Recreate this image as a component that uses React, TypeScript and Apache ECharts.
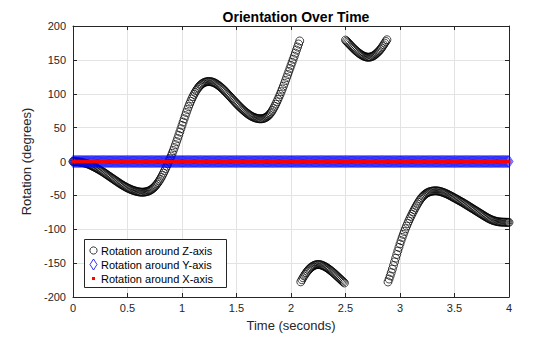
import React, { useEffect, useRef } from "react";
import * as echarts from "echarts";

// Sample interval of the recording (seconds)
const TIME_STEP = 0.01;

// Rotation around Z-axis (degrees), one value per 0.01 s sample from 0 to 4 s
const zRotation: number[] = [
  // 0.00 - 0.99
  0, -0.1, -0.2, -0.3, -0.5, -0.6, -0.8, -1.0, -1.3, -1.6,
  -2, -2.4, -2.8, -3.3, -3.9, -4.6, -5.3, -6.1, -6.9, -7.7,
  -8.5, -9.4, -10.3, -11.2, -12.1, -13, -14, -15, -16, -17.1,
  -18.2, -19.3, -20.4, -21.5, -22.6, -23.7, -24.8, -25.9, -27, -28.1,
  -29.2, -30.3, -31.4, -32.5, -33.5, -34.5, -35.5, -36.4, -37.3, -38.2,
  -39, -39.8, -40.5, -41.2, -41.9, -42.5, -43, -43.5, -44, -44.4,
  -44.7, -45, -45.2, -45.3, -45.3, -45.2, -45, -44.7, -44.3, -43.8,
  -43.1, -42.3, -41.3, -40.1, -38.7, -37.1, -35.3, -33.3, -31.1, -28.7,
  -26.1, -23.3, -20.3, -17.1, -13.8, -10.4, -6.9, -3.3, 0.4, 4.2,
  8.1, 12.1, 16.2, 20.5, 24.9, 29.4, 34, 38.7, 43.5, 48.4,
  // 1.00 - 1.99
  53.3, 58.2, 63, 67.7, 72.3, 76.7, 81, 85, 88.8, 92.4,
  95.8, 99, 101.9, 104.6, 107, 109.2, 111.1, 112.8, 114.2, 115.4,
  116.3, 117, 117.5, 117.8, 118, 118, 117.9, 117.6, 117.2, 116.6,
  115.9, 115, 114, 112.9, 111.7, 110.4, 109, 107.5, 106, 104.4,
  102.8, 101.1, 99.4, 97.7, 96, 94.2, 92.5, 90.7, 89, 87.3,
  85.6, 83.9, 82.3, 80.7, 79.1, 77.6, 76.1, 74.7, 73.3, 72,
  70.8, 69.6, 68.5, 67.5, 66.6, 65.8, 65.1, 64.5, 64, 63.6,
  63.3, 63.1, 63, 63.1, 63.3, 63.7, 64.3, 65.1, 66.1, 67.4,
  69, 70.9, 73.1, 75.6, 78.4, 81.4, 84.6, 88, 91.6, 95.3,
  99.1, 103, 107, 111.1, 115.3, 119.6, 124, 128.4, 132.9, 137.4,
  // 2.00 - 2.99
  141.9, 146.4, 150.9, 155.4, 159.9, 164.4, 168.9, 173.4, 177.9, -177.6,
  -174.5, -171.6, -168.9, -166.4, -164.1, -162, -160.1, -158.4, -156.9, -155.6,
  -154.5, -153.6, -152.9, -152.4, -152.1, -152, -152.1, -152.4, -152.9, -153.5,
  -154.2, -155, -155.9, -156.9, -158, -159.2, -160.4, -161.7, -163, -164.4,
  -165.8, -167.3, -168.8, -170.3, -171.8, -173.3, -174.8, -176.3, -177.8, -179.3,
  179.2, 177.6, 175.9, 174.2, 172.5, 170.8, 169.1, 167.5, 165.9, 164.4,
  163, 161.6, 160.3, 159.1, 158, 157, 156.1, 155.3, 154.7, 154.3,
  154, 153.9, 154, 154.3, 154.8, 155.5, 156.4, 157.5, 158.8, 160.3,
  161.8, 163.5, 165.4, 167.5, 169.8, 172.2, 174.7, 177.2, 179.7, -177.8,
  -173.5, -168.8, -163.9, -158.8, -153.5, -148.1, -142.7, -137.3, -132, -126.8,
  // 3.00 - 4.00
  -121.7, -116.8, -112.1, -107.6, -103.3, -99.2, -95.3, -91.5, -87.9, -84.4,
  -81, -77.7, -74.5, -71.4, -68.4, -65.5, -62.7, -60.1, -57.6, -55.3,
  -53.2, -51.4, -49.8, -48.4, -47.2, -46.2, -45.4, -44.8, -44.3, -43.9,
  -43.6, -43.4, -43.3, -43.3, -43.4, -43.6, -43.9, -44.3, -44.8, -45.3,
  -45.9, -46.5, -47.2, -47.9, -48.7, -49.5, -50.3, -51.2, -52.1, -53,
  -53.8, -54.7, -55.6, -56.5, -57.4, -58.3, -59.2, -60.1, -61, -62,
  -63, -64, -65, -66, -67, -68, -69, -70, -71, -72,
  -73, -74, -75, -76, -77, -78, -79, -80, -81, -82,
  -82.9, -83.8, -84.6, -85.4, -86.1, -86.7, -87.3, -87.8, -88.2, -88.6,
  -88.9, -89.1, -89.3, -89.4, -89.5, -89.6, -89.6, -89.7, -89.7, -89.8,
  -89.8,
];

// Rotation around Y-axis and X-axis: 0 degrees at every sample
const yRotation: number[] = zRotation.map(() => 0);
const xRotation: number[] = zRotation.map(() => 0);

// Sample times (seconds)
const times: number[] = zRotation.map((_, i) => +(i * TIME_STEP).toFixed(2));

const xTicks = { min: 0, max: 4, interval: 0.5 };
const yTicks = { min: -200, max: 200, interval: 50 };

const seriesNames = [
  "Rotation around Z-axis",
  "Rotation around Y-axis",
  "Rotation around X-axis",
];

const FONT = "'Liberation Sans', Arial, Helvetica, sans-serif";
const AXIS_COLOR = "#262626";
const GRID_COLOR = "#e3e3e3";

export default function App() {
  const ref = useRef<HTMLDivElement>(null);

  useEffect(() => {
    document.body.style.margin = "0";
    if (!ref.current) return;
    const chart = echarts.init(ref.current, undefined, { renderer: "svg" });

    const pair = (arr: number[]) => arr.map((v, i) => [times[i], v]);

    const axisLine = { show: true, onZero: false, lineStyle: { color: AXIS_COLOR, width: 1 } };
    const axisTick = { show: true, inside: true, length: 4, lineStyle: { color: AXIS_COLOR } };

    const legendX = 84;
    const legendY = 239;
    const LZ = 200;

    chart.setOption({
      animation: false,
      backgroundColor: "#ffffff",
      title: {
        text: "Orientation Over Time",
        left: 291,
        top: 5,
        textAlign: "center",
        textStyle: { fontFamily: FONT, fontSize: 14, fontWeight: "bold", color: "#000" },
      },
      grid: { left: 73, right: 51, top: 26, bottom: 39, containLabel: false },
      xAxis: [
        {
          type: "value",
          position: "bottom",
          ...xTicks,
          axisLine,
          axisTick,
          axisLabel: { color: AXIS_COLOR, fontSize: 11, fontFamily: FONT, margin: 5 },
          splitLine: { show: true, lineStyle: { color: GRID_COLOR, width: 1 } },
          name: "Time (seconds)",
          nameLocation: "middle",
          nameGap: 22,
          nameTextStyle: { color: AXIS_COLOR, fontSize: 13, fontFamily: FONT },
        },
        {
          type: "value",
          position: "top",
          ...xTicks,
          axisLine,
          axisTick,
          axisLabel: { show: false },
          splitLine: { show: false },
        },
      ],
      yAxis: [
        {
          type: "value",
          position: "left",
          ...yTicks,
          axisLine,
          axisTick,
          axisLabel: { color: AXIS_COLOR, fontSize: 11, fontFamily: FONT, margin: 7 },
          splitLine: { show: true, lineStyle: { color: GRID_COLOR, width: 1 } },
          name: "Rotation (degrees)",
          nameLocation: "middle",
          nameGap: 36,
          nameTextStyle: { color: AXIS_COLOR, fontSize: 13, fontFamily: FONT },
        },
        {
          type: "value",
          position: "right",
          ...yTicks,
          axisLine,
          axisTick,
          axisLabel: { show: false },
          splitLine: { show: false },
        },
      ],
      series: [
        {
          name: seriesNames[0],
          type: "scatter",
          clip: false,
          data: pair(zRotation),
          symbol: "circle",
          symbolSize: 8,
          itemStyle: { color: "rgba(0,0,0,0)", borderColor: "#000", borderWidth: 0.9 },
          silent: true,
          z: 2,
        },
        {
          name: seriesNames[1],
          type: "scatter",
          clip: false,
          data: pair(yRotation),
          symbol: "diamond",
          symbolSize: [8, 12],
          itemStyle: { color: "rgba(0,0,0,0)", borderColor: "#0000ff", borderWidth: 0.8 },
          silent: true,
          z: 3,
        },
        {
          name: seriesNames[2],
          type: "scatter",
          clip: false,
          data: pair(xRotation),
          symbol: "circle",
          symbolSize: 3.5,
          itemStyle: { color: "#ff0000" },
          silent: true,
          z: 4,
        },
      ],
      graphic: [
        {
          type: "group",
          x: legendX,
          y: legendY,
          z: LZ,
          children: [
            {
              type: "rect",
              z: LZ,
              shape: { x: 0.5, y: 0.5, width: 142, height: 48 },
              style: { fill: "#ffffff", stroke: AXIS_COLOR, lineWidth: 1 },
            },
            {
              type: "circle",
              z: LZ + 1,
              shape: { cx: 9.5, cy: 11.5, r: 3.6 },
              style: { fill: "none", stroke: "#000", lineWidth: 0.8 },
            },
            {
              type: "polygon",
              z: LZ + 1,
              shape: { points: [[9.5, 20], [13, 25.5], [9.5, 31], [6, 25.5]] },
              style: { fill: "none", stroke: "#0000ff", lineWidth: 0.8 },
            },
            {
              type: "rect",
              z: LZ + 1,
              shape: { x: 8, y: 38, width: 3, height: 3 },
              style: { fill: "#ff0000" },
            },
            {
              type: "text",
              z: LZ + 1,
              x: 17,
              y: 11.5,
              style: { text: seriesNames[0], fill: "#000", font: `11px ${FONT}`, verticalAlign: "middle" },
            },
            {
              type: "text",
              z: LZ + 1,
              x: 17,
              y: 25.5,
              style: { text: seriesNames[1], fill: "#000", font: `11px ${FONT}`, verticalAlign: "middle" },
            },
            {
              type: "text",
              z: LZ + 1,
              x: 17,
              y: 39.5,
              style: { text: seriesNames[2], fill: "#000", font: `11px ${FONT}`, verticalAlign: "middle" },
            },
          ],
        },
      ],
    });

    return () => chart.dispose();
  }, []);

  return <div ref={ref} style={{ width: 560, height: 337 }} />;
}
